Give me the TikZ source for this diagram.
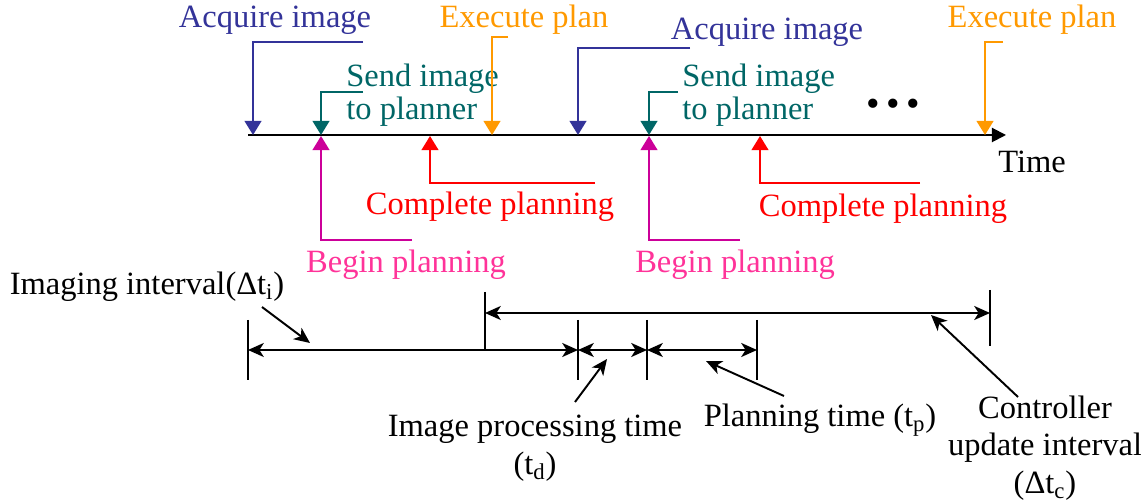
\documentclass[tikz,border=0pt]{standalone}
\usepackage{fontspec}
\setmainfont{Liberation Serif}
\usetikzlibrary{arrows.meta,positioning}

\definecolor{acqblue}{RGB}{51,51,153}
\definecolor{sendteal}{RGB}{0,102,102}
\definecolor{execorange}{RGB}{255,153,0}
\definecolor{beginpink}{RGB}{255,51,153}
\definecolor{beginline}{RGB}{204,0,153}
\definecolor{donered}{RGB}{255,0,0}

\begin{document}
\begin{tikzpicture}[x=0.02cm,y=-0.02cm,font=\fontsize{18.5}{19}\selectfont,
  event/.style={line width=1.1pt,-{Triangle[length=8pt,width=9.5pt]}},
  span/.style={line width=1.1pt,{Stealth[length=9pt,width=8pt,inset=2.5pt]}-{Stealth[length=9pt,width=8pt,inset=2.5pt]}},
  pointer/.style={line width=1.1pt,-{Stealth[length=9pt,width=8pt,inset=2.5pt]}},
  tickline/.style={line width=1.1pt},
  txt/.style={inner sep=0pt,align=center},
  wide/.style={txt,font=\fontsize{18.5}{21.5}\selectfont}
]
\useasboundingbox (0,0) rectangle (1141,502);

% time axis
\coordinate (t0) at (248,135);
\coordinate (tend) at (1006,135);
\draw[line width=1.1pt,-{Triangle[length=8pt,width=8pt]}] (t0) -- (tend);
\node[txt] (time) at (1032,162) {Time};
\node[txt,font=\fontsize{22}{22}\selectfont] (dots) at (893,108) {\textbullet\,\textbullet\,\textbullet};

% events above the axis
\node[txt,text=acqblue] (acq1txt) at (275,20) {Acquire image};
\node[txt,text=acqblue] (acq2txt) at (767,32) {Acquire image};
\node[txt,text=sendteal,align=left,anchor=west] (send1txt) at (346,95) {Send image\\to planner};
\node[txt,text=sendteal,align=left,anchor=west] (send2txt) at (682,95) {Send image\\to planner};
\node[txt,text=execorange] (exec1txt) at (524,20) {Execute plan};
\node[txt,text=execorange] (exec2txt) at (1032,20) {Execute plan};

\coordinate (acq1) at (253,135);   \coordinate (acq1k) at (363,42);
\coordinate (acq2) at (578,135);   \coordinate (acq2k) at (690,48);
\coordinate (send1) at (321,135);  \coordinate (send1k) at (363,92);
\coordinate (send2) at (649,135);  \coordinate (send2k) at (678,92);
\coordinate (exec1) at (492,135);  \coordinate (exec1k) at (508,37);
\coordinate (exec2) at (985,135);  \coordinate (exec2k) at (1003,42);

\draw[event,acqblue] (acq1k) -| (acq1);
\draw[event,acqblue] (acq2k) -| (acq2);
\draw[event,sendteal] (send1k) -| (send1);
\draw[event,sendteal] (send2k) -| (send2);
\draw[event,execorange] (exec1k) -| (exec1);
\draw[event,execorange] (exec2k) -| (exec2);

% events below the axis
\node[txt,text=donered] (comp1txt) at (490,207) {Complete planning};
\node[txt,text=donered] (comp2txt) at (883,209) {Complete planning};
\node[txt,text=beginpink] (beg1txt) at (406,265) {Begin planning};
\node[txt,text=beginpink] (beg2txt) at (735,265) {Begin planning};

\coordinate (beg1) at (321,136);   \coordinate (beg1k) at (412,240);
\coordinate (beg2) at (649,136);   \coordinate (beg2k) at (740,240);
\coordinate (comp1) at (430,136);  \coordinate (comp1k) at (595,183);
\coordinate (comp2) at (760,136);  \coordinate (comp2k) at (920,183);

\draw[event,beginline] (beg1k) -| (beg1);
\draw[event,beginline] (beg2k) -| (beg2);
\draw[event,donered] (comp1k) -| (comp1);
\draw[event,donered] (comp2k) -| (comp2);

% interval ticks
\foreach \n/\x in {ta/248,tb/578,tc/647,td/757} {
  \coordinate (\n) at (\x,350);
  \draw[tickline] (\x,320) -- (\x,380);
}
\coordinate (cu0) at (485,313);
\coordinate (cu1) at (990,313);
\draw[tickline] (485,292) -- (485,350);
\draw[tickline] (990,290) -- (990,346);

% intervals
\draw[span] (ta) -- (tb);
\draw[span] (tb) -- (tc);
\draw[span] (tc) -- (td);
\draw[span] (cu0) -- (cu1);

% interval labels
\node[txt] (ivtxt) at (147,287) {Imaging interval(Δt\textsubscript{i})};
\node[wide] (iptxt) at (535,448) {Image processing time\\(t\textsubscript{d})};
\node[txt] (pltxt) at (820,420) {Planning time (t\textsubscript{p})};
\node[wide] (cutxt) at (1045,448) {Controller\\update interval\\(Δt\textsubscript{c})};

\coordinate (iv0) at (262,307);   \coordinate (iv1) at (310,343);
\coordinate (ip0) at (575,402);   \coordinate (ip1) at (607,359);
\coordinate (pl0) at (784,396);   \coordinate (pl1) at (706,361);
\coordinate (cu2) at (1018,397);  \coordinate (cu3) at (931,315);

\draw[pointer] (iv0) -- (iv1);
\draw[pointer] (ip0) -- (ip1);
\draw[pointer] (pl0) -- (pl1);
\draw[pointer] (cu2) -- (cu3);

\end{tikzpicture}
\end{document}
